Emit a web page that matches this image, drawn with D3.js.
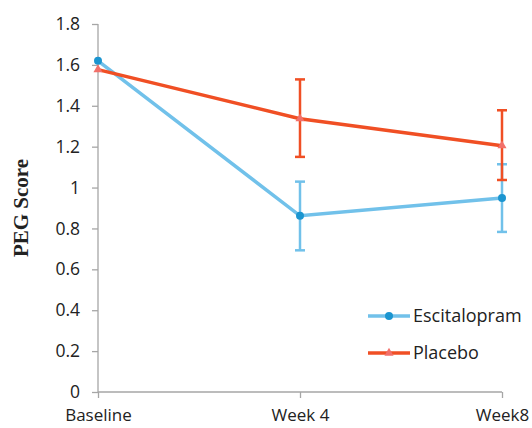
<!DOCTYPE html>
<html><head><meta charset="utf-8">
<script src="https://cdn.jsdelivr.net/npm/d3@7"></script>
<style>body{margin:0;background:#fff}</style>
</head><body>
<svg id="c" width="532" height="428"></svg>
<script>
const categories = ["Baseline", "Week 4", "Week8"];
const escValues = [1.62, 0.862, 0.949];
const escUpper = [null, 1.029, 1.114];
const escLower = [null, 0.693, 0.783];
const plaValues = [1.577, 1.337, 1.205];
const plaUpper = [null, 1.529, 1.378];
const plaLower = [null, 1.150, 1.037];
const yTicks = [0, 0.2, 0.4, 0.6, 0.8, 1, 1.2, 1.4, 1.6, 1.8];

const svg = d3.select("#c");
const x = d3.scalePoint().domain(categories).range([98, 502]);
const y = d3.scaleLinear().domain([0, 1.8]).range([392, 24]);
const tickFont = "'Open Sans', 'Noto Sans', sans-serif";

// y axis
const ya = svg.append("g").attr("transform", "translate(98,0)")
  .call(d3.axisLeft(y).tickValues(yTicks).tickSize(6).tickPadding(12)
    .tickFormat(d => d3.format("~g")(d)));
ya.selectAll("path, line").attr("stroke", "#a6a6a6").attr("stroke-width", 1.3);
ya.select("path").attr("d", "M0,24V392");
ya.selectAll("text").attr("font-family", tickFont).attr("font-size", 17.5).attr("fill", "#222");

// x axis
const xa = svg.append("g").attr("transform", "translate(0,392)")
  .call(d3.axisBottom(x).tickSize(6));
xa.selectAll("path, line").attr("stroke", "#a6a6a6").attr("stroke-width", 1.3);
xa.select("path").attr("d", "M98,0H502");
xa.selectAll("text").attr("font-family", tickFont).attr("font-size", 17).attr("fill", "#222")
  .attr("y", 29).attr("dy", 0);

// y label
svg.append("text").attr("transform", "translate(28,208) rotate(-90)")
  .attr("text-anchor", "middle").attr("font-family", "'Liberation Serif', 'DejaVu Serif', serif")
  .attr("font-weight", "bold").attr("font-size", 21).attr("fill", "#222").text("PEG Score");

const series = [
  {name: "Escitalopram", values: escValues, up: escUpper, lo: escLower, line: "#71c1ea", mark: "#1b95d0", shape: "circle"},
  {name: "Placebo", values: plaValues, up: plaUpper, lo: plaLower, line: "#f04f24", mark: "#f2706a", shape: "triangle"}
];

const line = d3.line().x((d, i) => x(categories[i])).y(d => y(d));

series.forEach(s => {
  const g = svg.append("g");
  s.values.forEach((v, i) => {
    if (s.up[i] == null) return;
    const cx = x(categories[i]);
    g.append("line").attr("x1", cx).attr("x2", cx).attr("y1", y(s.up[i])).attr("y2", y(s.lo[i]))
      .attr("stroke", s.line).attr("stroke-width", 2.5);
    [s.up[i], s.lo[i]].forEach(e => {
      g.append("line").attr("x1", cx - 5).attr("x2", cx + 5).attr("y1", y(e)).attr("y2", y(e))
        .attr("stroke", s.line).attr("stroke-width", 2.5);
    });
  });
  g.append("path").attr("d", line(s.values)).attr("fill", "none")
    .attr("stroke", s.line).attr("stroke-width", 3.5);
});

function marker(g, s, cx, cy) {
  if (s.shape === "circle") {
    g.append("circle").attr("cx", cx).attr("cy", cy).attr("r", 4).attr("fill", s.mark);
  } else {
    g.append("path").attr("transform", `translate(${cx},${cy})`)
      .attr("d", d3.symbol(d3.symbolTriangle, 36)()).attr("fill", s.mark);
  }
}
series.forEach(s => {
  const g = svg.append("g");
  s.values.forEach((v, i) => marker(g, s, x(categories[i]), y(v)));
});

// legend
series.forEach((s, i) => {
  const ly = 316 + i * 37;
  const g = svg.append("g");
  g.append("line").attr("x1", 368).attr("x2", 410).attr("y1", ly).attr("y2", ly)
    .attr("stroke", s.line).attr("stroke-width", 3.5);
  marker(g, s, 389, ly);
  g.append("text").attr("x", 413).attr("y", ly).attr("dy", "0.35em")
    .attr("font-family", tickFont).attr("font-size", 18).attr("fill", "#222").text(s.name);
});
</script>
</body></html>
